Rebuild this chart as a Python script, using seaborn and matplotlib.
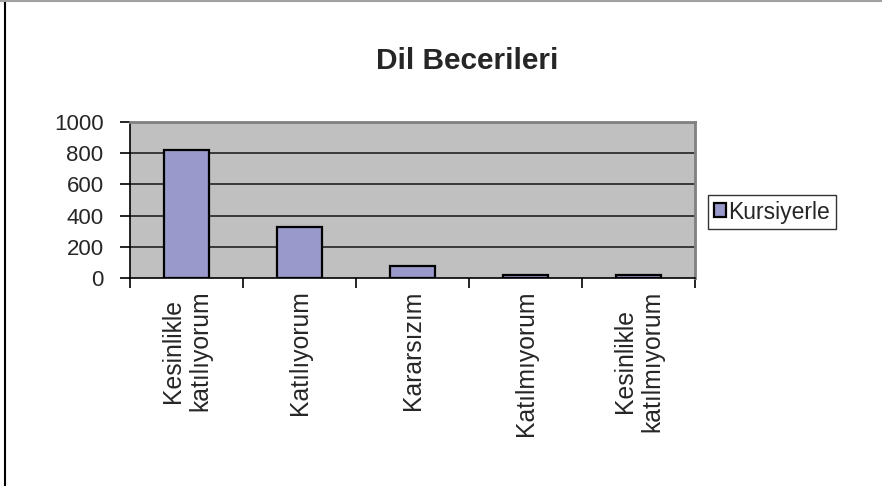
import matplotlib
matplotlib.use("Agg")
import matplotlib.pyplot as plt
from matplotlib.patches import Patch
from matplotlib.lines import Line2D
import seaborn as sns
import pandas as pd
import numpy as np

categories = ["Kesinlikle\nkatılıyorum", "Katılıyorum", "Kararsızım",
              "Katılmıyorum", "Kesinlikle\nkatılmıyorum"]
values = [820, 325, 75, 20, 20]
series_name = "Kursiyerle"
title = "Dil Becerileri"
yticks = [0, 200, 400, 600, 800, 1000]

sns.set_style("white")
plt.rcParams["font.family"] = ["Liberation Sans", "DejaVu Sans"]

df = pd.DataFrame({"cat": categories, "val": values})

fig = plt.figure(figsize=(8.82, 4.86), dpi=100)
ax = fig.add_axes([130/882, 1-278/486, (695-130)/882, (278-122)/486])
ax.set_facecolor("#C0C0C0")

sns.barplot(data=df, x="cat", y="val", color="#9999CC", saturation=1,
            edgecolor="black", linewidth=1.6, width=0.4, ax=ax, zorder=3)

ax.set_ylim(0, 1000)
ax.set_xlim(-0.5, len(categories) - 0.5)
ax.set_yticks(yticks)
ax.set_yticklabels([str(v) for v in yticks], fontsize=16)
for v in yticks[1:-1]:
    ax.axhline(v, color="#222222", lw=1.2, zorder=1)

ax.set_xticks(range(len(categories)))
ax.set_xticklabels(categories, rotation=90, fontsize=17.8, va="top",
                   ha="center", multialignment="center", linespacing=1.15)
ax.tick_params(axis="x", which="major", length=0, pad=9)
ax.set_xticks(np.arange(-0.5, len(categories), 1.0), minor=True)
ax.tick_params(axis="x", which="minor", length=7, width=1.2, color="black",
               direction="out", bottom=True)
ax.tick_params(axis="y", length=7, width=1.2, color="black", direction="out",
               left=True, pad=12)
ax.set_xlabel("")
ax.set_ylabel("")

for s in ["left", "bottom"]:
    ax.spines[s].set_color("black")
    ax.spines[s].set_linewidth(1.2)
for s in ["top", "right"]:
    ax.spines[s].set_color("#808080")
    ax.spines[s].set_linewidth(2)

fig.text(467/882, 1-61/486, title, ha="center", va="center",
         fontsize=21.5, fontweight="bold")

handle = Patch(facecolor="#9999CC", edgecolor="black", linewidth=1.6)
leg = fig.legend([handle], [series_name], loc="center left",
                 bbox_to_anchor=(708/882, 1-212/486), fontsize=16.5,
                 frameon=True, fancybox=False, handlelength=0.55,
                 handleheight=0.55, handletextpad=0.1, borderpad=0.25,
                 borderaxespad=0)
leg.get_frame().set_edgecolor("black")
leg.get_frame().set_linewidth(1.0)

fig.add_artist(Line2D([5/882, 5/882], [0, 1], transform=fig.transFigure,
                      color="black", lw=1.5))
fig.add_artist(Line2D([0, 1], [1-1/486, 1-1/486], transform=fig.transFigure,
                      color="#A0A0A0", lw=1.5))

fig.savefig("out.png", dpi=100)
